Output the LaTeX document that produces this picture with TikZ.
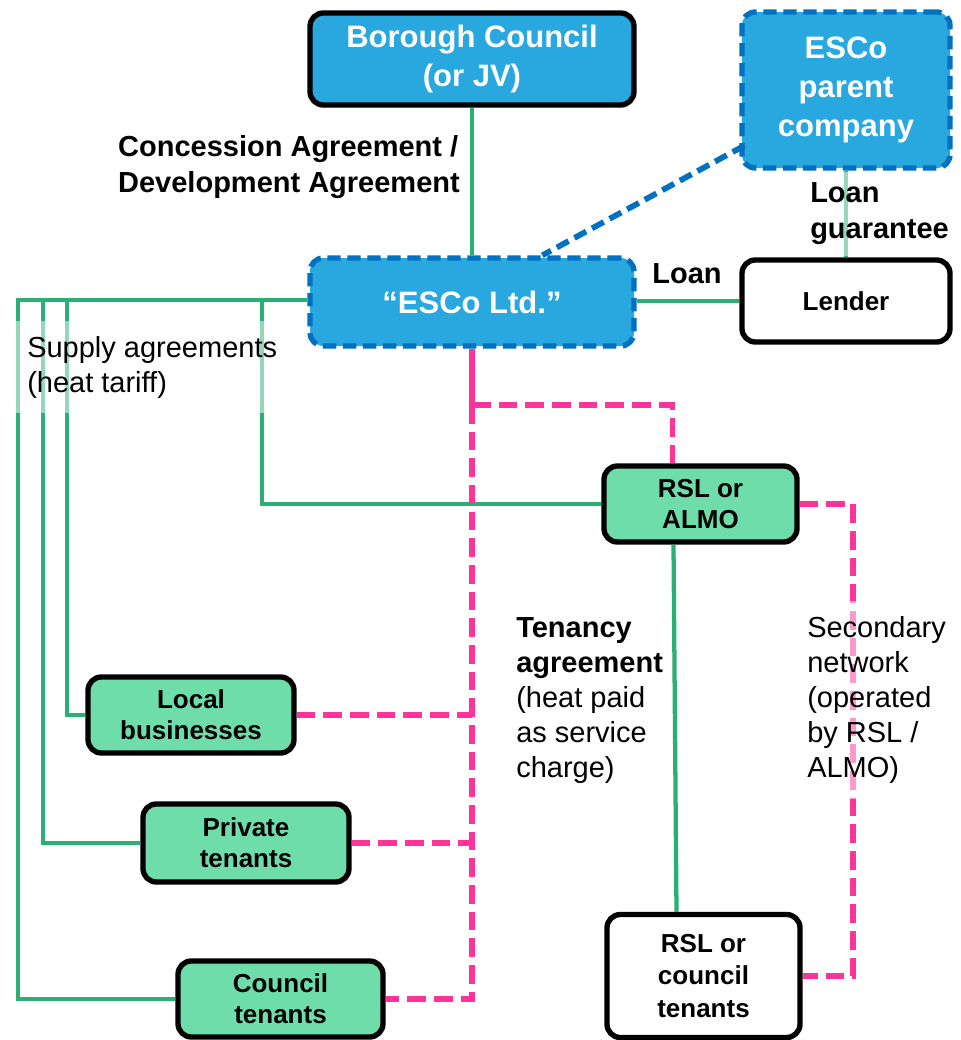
\documentclass[tikz,border=0pt]{standalone}
\usepackage{fontspec}
\setmainfont{Liberation Sans}
\usetikzlibrary{calc}
\definecolor{cyanfill}{RGB}{41,168,224}
\definecolor{bluedash}{RGB}{0,112,192}
\definecolor{greenfill}{RGB}{110,221,170}
\definecolor{greenline}{RGB}{43,176,115}
\definecolor{pinkline}{RGB}{255,51,153}
\begin{document}
\begin{tikzpicture}[x=0.75pt,y=-0.75pt,
 box/.style={rounded corners=10pt, line width=4pt, align=center, inner sep=0pt,
   font=\bfseries\fontsize{19.5}{23.5}\selectfont},
 blackbox/.style={box, draw=black},
 cyanbox/.style={box, fill=cyanfill, text=white, font=\bfseries\fontsize{23.25}{29}\selectfont},
 dashbox/.style={cyanbox, draw=bluedash, dash pattern=on 10pt off 5pt},
 greenbox/.style={blackbox, fill=greenfill},
 whitebox/.style={blackbox, fill=white},
 gline/.style={draw=greenline, line width=3.2pt},
 pline/.style={draw=pinkline, line width=4.3pt},
 pdash/.style={pline, dash pattern=on 14pt off 6pt},
 bdash/.style={draw=bluedash, line width=4.3pt, dash pattern=on 10pt off 5pt},
 lbl/.style={align=left, inner sep=0pt, font=\fontsize{21.75}{26.25}\selectfont},
 blbl/.style={lbl, font=\bfseries\fontsize{21.75}{27}\selectfont},
 veil/.style={fill=white, fill opacity=0.5, text opacity=1}
]
\useasboundingbox (0,0) rectangle (961,1040);

% boxes
\node[cyanbox, draw=black, minimum width=243pt, minimum height=69pt] (bc) at (472,59) {Borough Council\\(or JV)};
\node[dashbox, minimum width=156pt, minimum height=117pt] (parent) at (846,90) {ESCo\\parent\\company};
\node[dashbox, minimum width=243pt, minimum height=66pt] (esco) at (472,302) {“ESCo Ltd.”};
\node[whitebox, minimum width=156pt, minimum height=61.5pt] (lender) at (846,301) {Lender};
\node[greenbox, minimum width=144.75pt, minimum height=57pt] (rslalmo) at (700.5,504) {RSL or\\ALMO};
\node[greenbox, minimum width=154.5pt, minimum height=57pt] (local) at (191,715) {Local\\businesses};
\node[greenbox, minimum width=154.5pt, minimum height=58.5pt] (private) at (246,843) {Private\\tenants};
\node[greenbox, minimum width=153.75pt, minimum height=57pt] (council) at (280.5,999) {Council\\tenants};
\node[whitebox, minimum width=144.75pt, minimum height=92.25pt, font=\bfseries\fontsize{19.5}{24.4}\selectfont] (rslten) at (703.5,976) {RSL or\\council\\tenants};

% junction coordinates
\coordinate (s1) at (18,300);
\coordinate (s2) at (43,300);
\coordinate (s3) at (67,300);
\coordinate (s4) at (262,300);
\coordinate (p1) at (472,405);

% green connectors
\draw[gline] (bc.south) -- (esco.north);
\draw[gline] (parent.south) -- (lender.north);
\draw[gline] (esco.west |- s1) -- (s1) |- (council.west);
\draw[gline] (esco.east |- lender.west) -- (lender.west);
\draw[gline] (s2) |- (private.west);
\draw[gline] (s3) |- (local.west);
\draw[gline] (s4) |- (rslalmo.west);
\draw[gline] ($(rslalmo.south)+(-27,0)$) -- ($(rslten.north)+(-27,0)$);

% blue dashed connector
\draw[bdash] ($(parent.south west)+(5,-25)$) -- ($(esco.north west)+(235,0)$);

% pink connectors
\draw[pline] (esco.south) -- (p1);
\draw[pdash] (p1) -| ($(rslalmo.north)+(-28,0)$);
\draw[pdash] (p1) |- (council.east);
\draw[pdash] (local.east) -- (local.east -| p1);
\draw[pdash] (private.east) -- (private.east -| p1);
\draw[pdash] (rslalmo.east) -- ++(53,0) |- (rslten.east);

% labels
\node[blbl] (lconc) at (289,167) {Concession Agreement /\\Development Agreement};
\node[blbl, veil, anchor=west, inner xsep=6pt, minimum height=63pt] (lguar) at (802,214) {Loan\\guarantee};
\node[blbl] (lloan) at (687,274) {Loan};
\node[lbl, veil, anchor=west, inner xsep=11.25pt, minimum height=69pt] (lsup) at (12,367) {Supply agreements\\(heat tariff)};
\node[lbl, anchor=west] (lten) at (516,701) {\textbf{Tenancy}\\\textbf{agreement}\\(heat paid\\as service\\charge)};
\node[lbl, veil, anchor=west, inner xsep=7.5pt, minimum height=149pt] (lsec) at (797,700) {Secondary\\network\\(operated\\by RSL /\\ALMO)};
\end{tikzpicture}
\end{document}
